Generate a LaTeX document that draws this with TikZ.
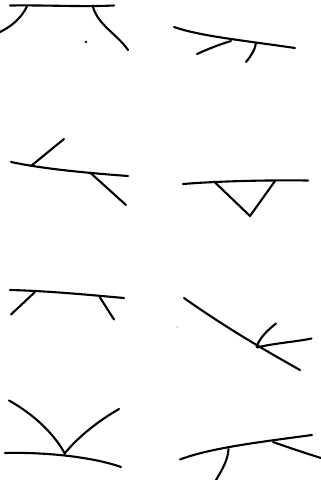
\documentclass[tikz,border=0pt]{standalone}
\begin{document}
\begin{tikzpicture}[x=1pt,y=-1pt,stroke/.style={line width=2.1pt,line cap=round,line join=round,black}]
\useasboundingbox (0,0) rectangle (321,480);
% panel 1
\draw[stroke] (10,5.5) .. controls (50,5) and (80,7) .. (114,5.5);
\draw[stroke] (27,6.5) .. controls (20,20) and (10,27) .. (0,32);
\draw[stroke] (93,7) .. controls (98,25) and (118,35) .. (128,50);
\fill (86,42) circle (1.3);
% panel 2
\draw[stroke] (174,27) .. controls (200,36) and (240,40) .. (295,48);
\draw[stroke] (231,41) .. controls (218,45) and (208,49) .. (197,54);
\draw[stroke] (256,43) .. controls (255,50) and (251,56) .. (246,62);
% panel 3
\draw[stroke] (11,162) .. controls (30,166) and (60,171) .. (128,176);
\draw[stroke] (31,166) -- (64,139);
\draw[stroke] (90,172.5) -- (126,205);
% panel 4
\draw[stroke] (183,184) .. controls (220,181) and (270,180) .. (308,180.5);
\draw[stroke] (214,181.5) -- (250,216) -- (275,181);
% panel 5
\draw[stroke] (10,290) .. controls (50,291) and (90,295) .. (124,298);
\draw[stroke] (35,292) -- (11,314.5);
\draw[stroke] (100,297.5) -- (114,319.5);
% panel 6
\fill[black!60] (177,327) circle (0.7);
\draw[stroke] (184,298) .. controls (215,320) and (250,342) .. (300,370);
\draw[stroke] (256.5,347) .. controls (260,337) and (268,330) .. (276,323.5);
\draw[stroke] (257,347.5) .. controls (275,343) and (295,342) .. (311.5,338.5);
% panel 7
\draw[stroke] (5,453) .. controls (40,452) and (90,456) .. (121,467);
\draw[stroke] (9,400.5) .. controls (35,415) and (55,435) .. (65,454);
\draw[stroke] (65,453) .. controls (80,435) and (100,420) .. (119,409);
% panel 8
\draw[stroke] (180,459.5) .. controls (210,448) and (260,442) .. (312,435);
\draw[stroke] (228.5,449) .. controls (228,460) and (222,470) .. (216,480);
\draw[stroke] (273,442) .. controls (290,448) and (305,453) .. (321,458);
\end{tikzpicture}
\end{document}
